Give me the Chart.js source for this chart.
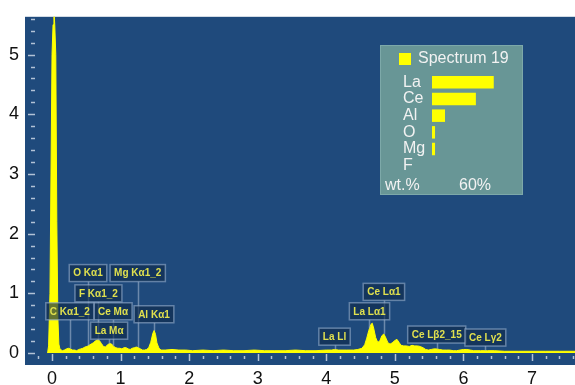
<!DOCTYPE html>
<html>
<head>
<meta charset="utf-8">
<script src="https://cdn.jsdelivr.net/npm/chart.js@4.4.1/dist/chart.umd.min.js"></script>
<style>
  html, body { margin: 0; padding: 0; background: #fff; }
  #wrap { position: relative; width: 575px; height: 385px; }
  #inset { position: absolute; left: 380px; top: 45px; width: 143px; height: 150px;
           background: #689696; box-shadow: inset 0 0 0 1px #7da9a9;
           font-family: 'Liberation Sans', Arial, sans-serif; color: #f2f2f2; }
  #inset canvas { position: absolute; left: 0; top: 0; }
  .key { position: absolute; left: 19px; top: 8px; width: 12px; height: 12px; background: #ffff00; }
  .title { position: absolute; left: 38px; top: 4px; font-size: 16px; line-height: 18px; }
  .foot { position: absolute; top: 131px; font-size: 16px; line-height: 18px; }
</style>
</head>
<body>
<div id="wrap">
  <canvas id="main" width="575" height="385"></canvas>
  <div id="inset">
    <canvas id="bars" width="143" height="150"></canvas>
    <div class="key"></div>
    <div class="title">Spectrum 19</div>
    <div class="foot" style="left:5px">wt.%</div>
    <div class="foot" style="left:79px">60%</div>
  </div>
</div>
<script>
// spectrum (keV, counts)
const energy = [
  -0.065, -0.05, -0.03, -0.015, 0.00, 0.015, 0.028, 0.04, 0.055, 0.07, 0.085, 0.10, 0.115,
  0.15, 0.18, 0.21, 0.24, 0.27, 0.30, 0.33, 0.36, 0.39, 0.42, 0.45, 0.48, 0.51, 0.54, 0.57, 0.60, 0.63, 0.66, 0.69,
  0.72, 0.75, 0.78, 0.81, 0.84, 0.87, 0.90, 0.93, 0.96, 0.99, 1.02, 1.05, 1.08, 1.11, 1.14, 1.17, 1.20, 1.23, 1.26, 1.29,
  1.32, 1.35, 1.38, 1.41, 1.44, 1.47, 1.49, 1.51, 1.53, 1.56, 1.59, 1.65, 1.75, 1.85, 1.95, 2.05, 2.20, 2.35, 2.50, 2.65,
  2.80, 2.95, 3.10, 3.25, 3.40, 3.55, 3.70, 3.85, 4.00, 4.08, 4.12, 4.18, 4.30, 4.40, 4.46, 4.52, 4.56, 4.59, 4.62, 4.65,
  4.67, 4.69, 4.72, 4.75, 4.78, 4.81, 4.84, 4.87, 4.90, 4.93, 4.96, 5.00, 5.03, 5.06, 5.09, 5.13, 5.17, 5.21, 5.25, 5.29,
  5.33, 5.37, 5.41, 5.45, 5.49, 5.53, 5.57, 5.61, 5.65, 5.70, 5.75, 5.80, 5.85, 5.90, 5.95, 6.00, 6.05, 6.10, 6.15, 6.25,
  6.35, 6.45, 6.60, 6.80, 7.00, 7.20, 7.40, 7.60, 7.70
];
const counts = [
  0.00, 0.12, 1.00, 3.00, 5.00, 5.50, 5.75, 5.50, 5.00, 2.20, 0.60, 0.15, 0.07,
  0.04, 0.05, 0.07, 0.08, 0.07, 0.05, 0.05, 0.04, 0.06, 0.07, 0.08, 0.10, 0.11, 0.13, 0.15, 0.17, 0.20, 0.22, 0.21,
  0.16, 0.11, 0.10, 0.14, 0.16, 0.15, 0.11, 0.09, 0.08, 0.08, 0.07, 0.09, 0.09, 0.07, 0.06, 0.08, 0.09, 0.10, 0.09, 0.07,
  0.05, 0.05, 0.06, 0.09, 0.18, 0.33, 0.38, 0.31, 0.17, 0.08, 0.05, 0.05, 0.06, 0.05, 0.05, 0.04, 0.05, 0.04, 0.05, 0.04,
  0.04, 0.05, 0.04, 0.04, 0.04, 0.05, 0.04, 0.04, 0.05, 0.05, 0.06, 0.05, 0.05, 0.05, 0.06, 0.08, 0.14, 0.25, 0.38, 0.48,
  0.50, 0.42, 0.26, 0.18, 0.20, 0.29, 0.32, 0.25, 0.17, 0.15, 0.17, 0.21, 0.23, 0.18, 0.13, 0.12, 0.12, 0.11, 0.13, 0.12,
  0.12, 0.11, 0.09, 0.06, 0.05, 0.06, 0.07, 0.07, 0.06, 0.05, 0.05, 0.05, 0.04, 0.04, 0.05, 0.06, 0.06, 0.05, 0.04, 0.04,
  0.04, 0.04, 0.03, 0.03, 0.03, 0.03, 0.03, 0.03, 0.03
];
const xTicks = [0, 1, 2, 3, 4, 5, 6, 7];
const yTicks = [0, 1, 2, 3, 4, 5];

// peak labels: name, line energy (keV), height of the tag (counts)
const peakNames = ['Ce Mα', 'C Kα1_2', 'O Kα1', 'Mg Kα1_2', 'F Kα1_2', 'La Mα', 'Al Kα1',
                   'La Ll', 'La Lα1', 'Ce Lα1', 'Ce Lβ2_15', 'Ce Lγ2'];
const peakEnergy = [0.89, 0.26, 0.525, 1.25, 0.677, 0.833, 1.487, 4.12, 4.63, 4.84, 5.61, 6.32];
const peakTag = [0.70, 0.70, 1.34, 1.34, 1.00, 0.375, 0.65, 0.275, 0.70, 1.025, 0.31, 0.26];

// inset quant
const elements = ['La', 'Ce', 'Al', 'O', 'Mg', 'F'];
const wtPercent = [57, 40.5, 12, 2.8, 2.8, 0];

const FONT = "'Liberation Sans', Arial, sans-serif";

function countAt(e) {
  for (let i = 1; i < energy.length; i++) {
    if (energy[i] >= e) {
      const t = (e - energy[i - 1]) / (energy[i] - energy[i - 1]);
      return counts[i - 1] + t * (counts[i] - counts[i - 1]);
    }
  }
  return counts[counts.length - 1];
}

const decor = {
  id: 'decor',
  beforeDraw(chart) {
    const { ctx, chartArea: a } = chart;
    ctx.save();
    ctx.fillStyle = '#1f4a7c';
    ctx.fillRect(a.left, a.top, a.right - a.left, a.bottom - a.top);
    ctx.restore();
  },
  afterDatasetsDraw(chart) {
    const { ctx, chartArea: a, scales: { x, y } } = chart;
    ctx.save();
    ctx.strokeStyle = 'rgba(205,215,230,0.85)';
    ctx.lineWidth = 1.5;
    // minor ticks every 0.2, inside the plot
    for (let i = -1; i <= 38; i++) {
      const px = Math.round(x.getPixelForValue(i / 5)) + 0.5;
      const major = i % 5 === 0;
      ctx.beginPath();
      ctx.moveTo(px, a.bottom - (major ? 11 : 9));
      ctx.lineTo(px, a.bottom - (major ? 4 : 6));
      ctx.stroke();
    }
    for (let i = 0; i <= 28; i++) {
      const py = Math.round(y.getPixelForValue(i / 5)) + 0.5;
      const major = i % 5 === 0;
      ctx.beginPath();
      ctx.moveTo(a.left + (major ? 3 : 6), py);
      ctx.lineTo(a.left + 10, py);
      ctx.stroke();
    }

    // leader lines
    ctx.strokeStyle = 'rgba(160,180,205,0.6)';
    peakNames.forEach((n, i) => {
      const px = Math.round(x.getPixelForValue(peakEnergy[i])) + 0.5;
      const cy = y.getPixelForValue(peakTag[i]);
      const top = y.getPixelForValue(countAt(peakEnergy[i]));
      ctx.beginPath();
      ctx.moveTo(px, cy + 8.5);
      ctx.lineTo(px, top);
      ctx.stroke();
    });

    // tags
    ctx.font = 'bold 10px ' + FONT;
    ctx.textAlign = 'center';
    ctx.textBaseline = 'middle';
    peakNames.forEach((n, i) => {
      const px = x.getPixelForValue(peakEnergy[i]);
      const cy = y.getPixelForValue(peakTag[i]);
      const w = ctx.measureText(n).width + 8, h = 17;
      ctx.fillStyle = 'rgba(16,42,76,0.65)';
      ctx.fillRect(px - w / 2, cy - h / 2, w, h);
      ctx.strokeStyle = 'rgba(150,175,205,0.6)';
      ctx.strokeRect(px - w / 2, cy - h / 2, w, h);
      ctx.fillStyle = '#e0e04e';
      ctx.fillText(n, px, cy + 0.5);
    });
    ctx.restore();
  }
};

new Chart(document.getElementById('main'), {
  type: 'line',
  data: {
    datasets: [{
      label: 'Spectrum 19',
      data: energy.map((e, i) => ({ x: e, y: counts[i] })),
      borderColor: '#ffff00',
      backgroundColor: '#ffff00',
      borderWidth: 1,
      fill: 'origin',
      pointRadius: 0,
      tension: 0
    }]
  },
  options: {
    responsive: false,
    animation: false,
    layout: { padding: { top: 15, left: 0, right: 0, bottom: 0 } },
    plugins: { legend: { display: false }, tooltip: { enabled: false } },
    scales: {
      x: {
        type: 'linear', min: -0.394, max: 7.627,
        grid: { display: false, drawTicks: false },
        border: { display: false },
        afterBuildTicks(s) { s.ticks = xTicks.map(v => ({ value: v })); },
        afterFit(s) { s.height = 20; },
        ticks: { color: '#111', font: { size: 18, family: FONT }, padding: 3, maxRotation: 0, autoSkip: false }
      },
      y: {
        min: -0.2, max: 5.633,
        grid: { display: false, drawTicks: false },
        border: { display: false },
        afterBuildTicks(s) { s.ticks = yTicks.map(v => ({ value: v })); },
        afterFit(s) { s.width = 25; },
        ticks: { color: '#111', font: { size: 18, family: FONT }, padding: 6 }
      }
    }
  },
  plugins: [decor]
});

new Chart(document.getElementById('bars'), {
  type: 'bar',
  data: {
    labels: elements,
    datasets: [{ data: wtPercent, backgroundColor: '#ffff00', barPercentage: 0.75, categoryPercentage: 1 }]
  },
  options: {
    indexAxis: 'y',
    responsive: false,
    animation: false,
    layout: { padding: { left: 23, top: 29, bottom: 21, right: 26 } },
    plugins: { legend: { display: false }, tooltip: { enabled: false } },
    scales: {
      x: { display: false, min: 0, max: 60 },
      y: {
        grid: { display: false, drawTicks: false },
        border: { display: false },
        afterFit(s) { s.width = 29; },
        ticks: { color: '#f2f2f2', font: { size: 16, family: FONT }, crossAlign: 'far', padding: 0, autoSkip: false }
      }
    }
  }
});
</script>
</body>
</html>
